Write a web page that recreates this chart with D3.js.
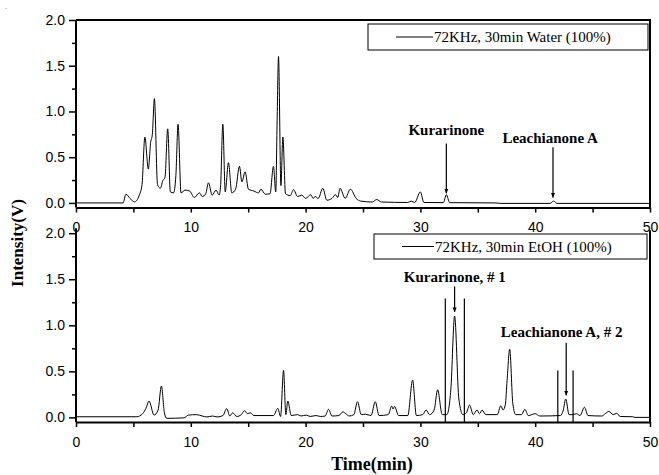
<!DOCTYPE html>
<html>
<head>
<meta charset="utf-8">
<script src="https://cdn.jsdelivr.net/npm/d3@7"></script>
<style>
  body { margin: 0; background: #fff; }
  svg { display: block; }
  .tick text { font-family: "Liberation Sans", Arial, sans-serif; font-size: 14px; fill: #000; }
  .axis path, .axis line { stroke: #000; }
  .axis path { stroke-width: 2px; }
  .axis line { stroke-width: 1.5px; }
  .serif { font-family: "Liberation Serif", "Times New Roman", serif; }
</style>
</head>
<body>
<svg id="chart" width="659" height="475"></svg>
<script>
// retention time (min) / intensity (V)
var waterTrace = [
  [0, 0], [4.1, 0], [4.35, 0.095], [4.7, 0.05], [5.1, 0.012], [5.5, 0.08], [5.75, 0.2],
  [6.0, 0.72], [6.3, 0.37], [6.5, 0.66], [6.65, 0.75], [6.83, 1.14], [7.1, 0.2], [7.35, 0.16],
  [7.55, 0.24], [7.75, 0.28], [7.99, 0.81], [8.22, 0.12], [8.5, 0.11], [8.7, 0.3], [8.89, 0.86],
  [9.15, 0.11], [9.5, 0.14], [9.9, 0.13], [10.3, 0.06], [10.75, 0.11], [11.0, 0.07], [11.3, 0.1],
  [11.54, 0.22], [11.86, 0.085], [12.2, 0.14], [12.47, 0.085], [12.6, 0.2], [12.79, 0.86],
  [13.0, 0.12], [13.28, 0.44], [13.57, 0.11], [13.9, 0.15], [14.24, 0.40], [14.45, 0.23],
  [14.73, 0.34], [15.02, 0.15], [15.5, 0.13], [15.9, 0.11], [16.1, 0.15], [16.5, 0.095],
  [16.9, 0.1], [17.2, 0.40], [17.4, 0.12], [17.52, 0.9], [17.64, 1.60], [17.85, 0.19],
  [18.02, 0.72], [18.25, 0.10], [18.66, 0.08], [18.95, 0.146], [19.3, 0.07], [19.67, 0.085],
  [20.0, 0.05], [20.46, 0.09], [20.65, 0.05], [20.84, 0.07], [21.1, 0.05], [21.5, 0.16],
  [21.85, 0.03], [22.3, 0.05], [22.6, 0.09], [22.8, 0.06], [23.0, 0.16], [23.45, 0.05],
  [23.9, 0.15], [24.4, 0.05], [24.8, 0.02], [25.8, 0.01], [26.2, 0.037], [26.6, 0.01],
  [28.9, 0.005], [29.2, 0.02], [29.5, 0.005], [30.0, 0.12], [30.3, 0.005], [32.0, 0.003],
  [32.26, 0.09], [32.55, 0.003], [36.5, 0], [37, -0.005], [41.3, -0.005], [41.6, 0.02],
  [41.9, -0.005], [50, -0.005]
];

var ethanolTrace = [
  [0, 0.007], [5.3, 0.007], [5.8, 0.04], [6.1, 0.1], [6.36, 0.177], [6.8, 0.025], [7.15, 0.08],
  [7.44, 0.34], [7.7, 0.05], [7.9, -0.01], [9.4, -0.005], [9.8, 0.025], [10.5, 0.03], [11.0, 0.015],
  [11.4, 0.005], [11.9, 0.015], [12.3, 0.005], [12.8, 0.02], [13.13, 0.095], [13.4, 0.015],
  [13.65, 0.05], [14.0, 0.01], [14.4, 0.03], [14.68, 0.072], [14.95, 0.04], [15.17, 0.05],
  [15.5, 0.02], [17.2, 0.02], [17.58, 0.098], [17.82, 0.01], [18.08, 0.51], [18.28, 0.03],
  [18.45, 0.177], [18.75, 0.02], [19.3, 0.03], [19.6, 0.015], [20.05, 0.025], [20.4, 0.01],
  [20.9, 0.02], [21.3, 0.01], [21.7, 0.015], [22.0, 0.087], [22.3, 0.015], [22.9, 0.02],
  [23.25, 0.06], [23.5, 0.04], [23.8, 0.015], [24.2, 0.03], [24.52, 0.17], [24.85, 0.03],
  [25.2, 0.035], [25.7, 0.02], [26.07, 0.17], [26.4, 0.02], [27.2, 0.03], [27.5, 0.123],
  [27.62, 0.09], [27.75, 0.12], [28.1, 0.02], [28.9, 0.02], [29.32, 0.405], [29.65, 0.02],
  [30.2, 0.03], [30.5, 0.08], [30.8, 0.03], [31.2, 0.08], [31.5, 0.30], [31.9, 0.03],
  [32.3, 0.03], [32.65, 0.3], [32.98, 1.10], [33.35, 0.2], [33.7, 0.03], [34.0, 0.05],
  [34.29, 0.134], [34.6, 0.03], [34.93, 0.08], [35.15, 0.04], [35.37, 0.08], [35.7, 0.03],
  [36.7, 0.03], [37.0, 0.126], [37.2, 0.08], [37.4, 0.14], [37.55, 0.4], [37.78, 0.74],
  [38.05, 0.15], [38.3, 0.03], [38.8, 0.03], [39.1, 0.087], [39.4, 0.02], [40.0, 0.04],
  [40.4, 0.015], [42.2, 0.02], [42.45, 0.08], [42.66, 0.2], [42.95, 0.03], [43.3, 0.03],
  [43.6, 0.04], [43.9, 0.02], [44.29, 0.11], [44.6, 0.02], [45.8, 0.015], [46.1, 0.04],
  [46.41, 0.065], [46.8, 0.03], [47.1, 0.045], [47.4, 0.01], [48.5, 0.007], [48.7, 0], [50, 0]
];

var timeTicks = [0, 5, 10, 15, 20, 25, 30, 35, 40, 45, 50];
var timeLabels = [0, 10, 20, 30, 40, 50];
var intensityTicks = [0, 0.25, 0.5, 0.75, 1.0, 1.25, 1.5, 1.75, 2.0];
var intensityLabels = [0, 0.5, 1.0, 1.5, 2.0];

var legendNames = ['72KHz, 30min Water (100%)', '72KHz, 30min EtOH (100%)'];

// label: [text, centre time, baseline value, arrow time, arrow start, arrow end]
var waterNotes = [
  ['Kurarinone', 32.26, 0.74, 32.26, 0.65, 0.105],
  ['Leachianone A', 41.3, 0.66, 41.55, 0.61, 0.06]
];
var ethanolNotes = [
  ['Kurarinone, # 1', 33.0, 1.47, 32.98, 1.42, 1.145],
  ['Leachianone A, # 2', 42.3, 0.873, 42.7, 0.81, 0.24]
];
// collection window markers: [time, top value]
var ethanolCuts = [[32.17, 1.29], [33.83, 1.29], [41.97, 0.51], [43.3, 0.51]];

var svg = d3.select('#chart');

svg.append('defs').append('marker')
    .attr('id', 'head')
    .attr('viewBox', '0 0 10 10')
    .attr('refX', 9).attr('refY', 5)
    .attr('markerWidth', 5).attr('markerHeight', 7)
    .attr('markerUnits', 'userSpaceOnUse')
    .attr('orient', 'auto')
  .append('path').attr('d', 'M0,1 L10,5 L0,9 Z').attr('fill', '#000')
;

var x = d3.scaleLinear().domain([0, 50]).range([76, 650]);
var yTop = d3.scaleLinear().domain([-0.05, 2.0]).range([207.5, 20]);
var yBot = d3.scaleLinear().domain([-0.05, 2.0]).range([422, 233.2]);

function drawPanel(y, trace, notes, legend, box, framed) {
  var g = svg.append('g');
  var x0 = x.range()[0], x1 = x.range()[1];
  var yb = y.range()[0], yt = y.range()[1];

  g.append('path')
      .datum(trace)
      .attr('fill', 'none')
      .attr('stroke', '#000')
      .attr('stroke-width', 1)
      .attr('d', d3.line()
        .x(function(d) { return x(d[0]); })
        .y(function(d) { return y(d[1]); })
        .curve(d3.curveMonotoneX))
  ;

  // frame lines
  g.append('line').attr('x1', x1).attr('x2', x1).attr('y1', framed ? yt : yt - 3).attr('y2', yb)
      .attr('stroke', '#000').attr('stroke-width', 2);
  if (framed) {
    g.append('line').attr('x1', x0).attr('x2', x1 + 1).attr('y1', yt).attr('y2', yt)
        .attr('stroke', '#000').attr('stroke-width', 2);
  }

  g.append('g').attr('class', 'axis')
      .attr('transform', 'translate(0,' + yb + ')')
      .call(d3.axisBottom(x).tickValues(timeTicks).tickSize(5).tickPadding(10).tickSizeOuter(0)
        .tickFormat(function(d) { return timeLabels.indexOf(d) >= 0 ? d : ''; }))
  ;

  var yAxis = g.append('g').attr('class', 'axis')
      .attr('transform', 'translate(' + x0 + ',0)')
      .call(d3.axisLeft(y).tickValues(intensityTicks).tickSize(7).tickPadding(4).tickSizeOuter(0)
        .tickFormat(function(d) { return intensityLabels.indexOf(d) >= 0 ? d3.format('.1f')(d) : ''; }))
  ;
  yAxis.selectAll('.tick')
      .filter(function(d) { return intensityLabels.indexOf(d) < 0; })
      .select('line').attr('x2', -4);
  yAxis.select('.domain').attr('d', 'M0,' + (yt - (framed ? 0 : 5)) + 'V' + yb);

  // legend
  g.append('rect')
      .attr('x', box[0]).attr('y', box[1]).attr('width', box[2]).attr('height', box[3])
      .attr('fill', '#fff').attr('stroke', '#000').attr('stroke-width', 1)
  ;
  g.append('line')
      .attr('x1', box[4]).attr('x2', box[5])
      .attr('y1', box[1] + box[3] / 2).attr('y2', box[1] + box[3] / 2)
      .attr('stroke', '#000').attr('stroke-width', 1)
  ;
  g.append('text').attr('class', 'serif')
      .attr('x', box[5] + 1).attr('y', box[1] + box[3] / 2 + 5)
      .attr('font-size', 15)
      .text(legend)
  ;

  notes.forEach(function(n) {
    g.append('text').attr('class', 'serif')
        .attr('x', x(n[1])).attr('y', y(n[2]))
        .attr('text-anchor', 'middle')
        .attr('font-size', 15).attr('font-weight', 'bold')
        .text(n[0])
    ;
    g.append('line')
        .attr('x1', x(n[3])).attr('x2', x(n[3]))
        .attr('y1', y(n[4])).attr('y2', y(n[5]))
        .attr('stroke', '#000').attr('stroke-width', 1.2)
        .attr('marker-end', 'url(#head)')
    ;
  });

  return g;
}

drawPanel(yTop, waterTrace, waterNotes, legendNames[0], [368, 24, 280, 26, 396, 433], true);
var bottom = drawPanel(yBot, ethanolTrace, ethanolNotes, legendNames[1], [374, 234, 273, 25, 402, 434], false);

bottom.selectAll('.cut')
    .data(ethanolCuts)
  .enter().append('line').classed('cut', true)
    .attr('x1', function(d) { return x(d[0]); })
    .attr('x2', function(d) { return x(d[0]); })
    .attr('y1', function(d) { return yBot(d[1]); })
    .attr('y2', yBot(-0.05))
    .attr('stroke', '#000').attr('stroke-width', 1.2)
;

svg.append('text').attr('class', 'serif')
    .attr('transform', 'translate(23,243) rotate(-90)')
    .attr('text-anchor', 'middle')
    .attr('font-size', 17).attr('font-weight', 'bold')
    .text('Intensity(V)')
;
svg.append('text').attr('class', 'serif')
    .attr('x', 372).attr('y', 470)
    .attr('text-anchor', 'middle')
    .attr('font-size', 18).attr('font-weight', 'bold')
    .text('Time(min)')
;
svg.append('text').attr('x', 5).attr('y', 9).attr('font-size', 8).attr('fill', '#666').text('.');
</script>
</body>
</html>
